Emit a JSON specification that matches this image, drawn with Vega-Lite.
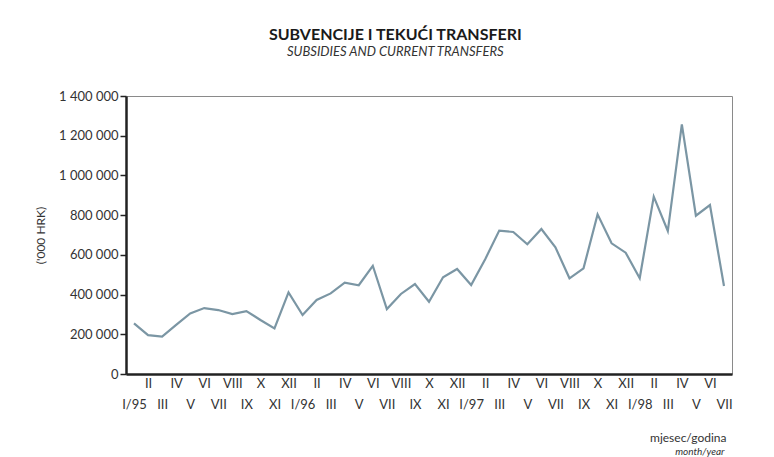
{
  "$schema": "https://vega.github.io/schema/vega-lite/v6.json",
  "width": 606,
  "height": 278,
  "padding": {"left": 34, "top": 27, "right": 41, "bottom": 5},
  "background": "white",
  "config": {
    "locale": {"number": {"decimal": ",", "thousands": " ", "grouping": [3], "currency": ["", ""]}},
    "view": {"stroke": "#8a8a8a", "strokeWidth": 1},
    "font": "Lato",
    "axis": {"labelOverlap": false, "labelBound": false}
  },
  "title": {
    "text": "SUBVENCIJE I TEKUĆI TRANSFERI",
    "subtitle": "SUBSIDIES AND CURRENT TRANSFERS",
    "anchor": "middle",
    "frame": "bounds",
    "dx": 12,
    "font": "Lato",
    "fontSize": 16,
    "fontWeight": "bold",
    "color": "#1a1a1a",
    "subtitleFont": "Lato",
    "subtitleFontSize": 13,
    "subtitleFontStyle": "italic",
    "subtitleColor": "#333333",
    "subtitlePadding": 3,
    "offset": 31
  },
  "data": {
    "values": [
      {"date": "1995-01", "value": 255000},
      {"date": "1995-02", "value": 196000},
      {"date": "1995-03", "value": 188000},
      {"date": "1995-04", "value": 247000},
      {"date": "1995-05", "value": 305000},
      {"date": "1995-06", "value": 332000},
      {"date": "1995-07", "value": 322000},
      {"date": "1995-08", "value": 302000},
      {"date": "1995-09", "value": 317000},
      {"date": "1995-10", "value": 272000},
      {"date": "1995-11", "value": 230000},
      {"date": "1995-12", "value": 411000},
      {"date": "1996-01", "value": 297000},
      {"date": "1996-02", "value": 373000},
      {"date": "1996-03", "value": 406000},
      {"date": "1996-04", "value": 460000},
      {"date": "1996-05", "value": 447000},
      {"date": "1996-06", "value": 545000},
      {"date": "1996-07", "value": 327000},
      {"date": "1996-08", "value": 403000},
      {"date": "1996-09", "value": 453000},
      {"date": "1996-10", "value": 364000},
      {"date": "1996-11", "value": 487000},
      {"date": "1996-12", "value": 529000},
      {"date": "1997-01", "value": 448000},
      {"date": "1997-02", "value": 578000},
      {"date": "1997-03", "value": 722000},
      {"date": "1997-04", "value": 715000},
      {"date": "1997-05", "value": 653000},
      {"date": "1997-06", "value": 730000},
      {"date": "1997-07", "value": 638000},
      {"date": "1997-08", "value": 482000},
      {"date": "1997-09", "value": 532000},
      {"date": "1997-10", "value": 804000},
      {"date": "1997-11", "value": 658000},
      {"date": "1997-12", "value": 611000},
      {"date": "1998-01", "value": 482000},
      {"date": "1998-02", "value": 893000},
      {"date": "1998-03", "value": 720000},
      {"date": "1998-04", "value": 1257000},
      {"date": "1998-05", "value": 797000},
      {"date": "1998-06", "value": 851000},
      {"date": "1998-07", "value": 443000}
    ]
  },
  "resolve": {"axis": {"x": "independent"}},
  "layer": [
    {
      "mark": {"type": "line", "color": "#7b96a4", "strokeWidth": 2.2},
      "encoding": {
        "x": {
          "field": "date",
          "type": "ordinal",
          "scale": {"type": "point", "padding": 0.57},
          "axis": {
            "orient": "bottom",
            "title": "mjesec/godina",
            "titleFont": "Lato",
            "titleFontSize": 12,
            "titleFontWeight": "normal",
            "titleColor": "#333333",
            "titlePadding": 21,
            "titleX": 600,
            "titleAlign": "right",
            "labelAngle": 0,
            "labelFontSize": 13,
            "labelColor": "#333333",
            "labelLineHeight": 21,
            "labelPadding": 3,
            "labelOverlap": false,
            "ticks": false,
            "domainColor": "#222222",
            "domainWidth": 2.5,
            "labelExpr": "toNumber(slice(datum.value,5,7)) % 2 == 0 ? [['I','II','III','IV','V','VI','VII','VIII','IX','X','XI','XII'][toNumber(slice(datum.value,5,7))-1]] : [' ', slice(datum.value,5,7) == '01' ? 'I/' + slice(datum.value,2,4) : ['I','II','III','IV','V','VI','VII','VIII','IX','X','XI','XII'][toNumber(slice(datum.value,5,7))-1]]"
          }
        },
        "y": {
          "field": "value",
          "type": "quantitative",
          "scale": {"domain": [0, 1400000], "nice": false},
          "axis": {
            "title": "('000 HRK)",
            "titleFont": "Lato",
            "titleFontSize": 12,
            "titleFontWeight": "normal",
            "titleColor": "#333333",
            "titlePadding": 11,
            "values": [0, 200000, 400000, 600000, 800000, 1000000, 1200000, 1400000],
            "format": ",d",
            "grid": false,
            "labelFontSize": 13,
            "labelColor": "#333333",
            "labelPadding": 2,
            "labelOverlap": false,
            "tickSize": 6,
            "tickColor": "#222222",
            "tickWidth": 1.5,
            "domainColor": "#222222",
            "domainWidth": 2.5
          }
        }
      }
    },
    {
      "mark": {"type": "line", "strokeOpacity": 0},
      "encoding": {
        "x": {
          "field": "date",
          "type": "ordinal",
          "scale": {"type": "point", "padding": 0.57},
          "axis": {
            "orient": "bottom",
            "title": "month/year",
            "titleX": 598,
            "titleAlign": "right",
            "titleFont": "Lato",
            "titleFontSize": 10,
            "titleFontStyle": "italic",
            "titleFontWeight": "normal",
            "titleColor": "#333333",
            "titlePadding": 72,
            "labels": false,
            "ticks": false,
            "domain": false
          }
        },
        "y": {
          "field": "value",
          "type": "quantitative",
          "axis": {
            "values": [0, 200000, 400000, 600000, 800000, 1000000, 1200000, 1400000],
            "labelOverlap": false
          }
        }
      }
    }
  ]
}
